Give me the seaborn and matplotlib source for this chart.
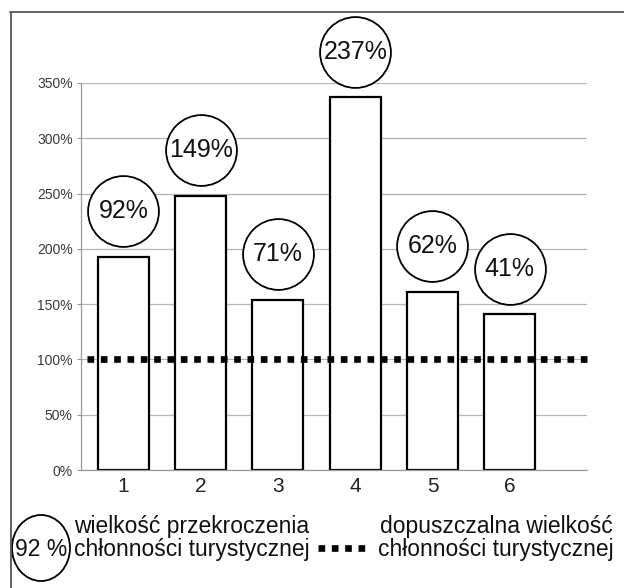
import matplotlib
matplotlib.use("Agg")
import matplotlib.pyplot as plt
import seaborn as sns
import pandas as pd
from matplotlib.transforms import offset_copy
from matplotlib.lines import Line2D
from matplotlib.patches import Ellipse

# ---- data ----
categories = ["1", "2", "3", "4", "5", "6"]
values = [193, 248, 154, 337, 161, 141]          # % of capacity
labels = ["92%", "149%", "71%", "237%", "62%", "41%"]  # exceedance
limit = 100
yticks = [0, 50, 100, 150, 200, 250, 300, 350]
ytick_labels = ["0%", "50%", "100%", "150%", "200%", "250%", "300%", "350%"]
legend_circle_text = "92 %"
legend_left_text = "wielkość przekroczenia\nchłonności turystycznej"
legend_right_text = "dopuszczalna wielkość\nchłonności turystycznej"

sns.set_theme(style="white")
plt.rcParams["font.family"] = ["Liberation Sans", "DejaVu Sans"]

W, H = 624, 588
fig = plt.figure(figsize=(W / 100, H / 100), dpi=100)
ax = fig.add_axes([81 / W, 1 - 470 / H, (587 - 81) / W, (470 - 83) / H])

df = pd.DataFrame({"cat": categories, "val": values})
sns.barplot(data=df, x="cat", y="val", ax=ax, color="white",
            edgecolor="black", linewidth=1.6, width=0.66, saturation=1)

ax.set_xlim(-0.55, 6.0)
ax.set_ylim(0, 350)
ax.set_yticks(yticks)
ax.set_yticklabels(ytick_labels, fontsize=10, color="#3a3a3a")
ax.tick_params(axis="y", length=3, width=0.8, color="#999999", pad=3, left=True)
ax.tick_params(axis="x", length=0, pad=5, labelsize=15, labelcolor="#222222")
ax.set_xlabel("")
ax.set_ylabel("")
ax.grid(axis="y", color="#b5b5b5", linewidth=0.9)
ax.set_axisbelow(True)
for s in ["top", "right"]:
    ax.spines[s].set_visible(False)
for s in ["left", "bottom"]:
    ax.spines[s].set_color("#999999")
    ax.spines[s].set_linewidth(0.9)

# admissible capacity line
ax.axhline(limit, xmin=0.012, xmax=1.006, color="black", linewidth=4.8,
           linestyle=(0, (1, 1)), dash_capstyle="butt", clip_on=False, zorder=5)

# circled labels above bars
trans = offset_copy(ax.transData, fig=fig, y=32.8, units="points")
for i, (v, lab) in enumerate(zip(values, labels)):
    ax.plot(i, v, marker="o", ms=51, mfc="white", mec="black", mew=1.3,
            transform=trans, clip_on=False, zorder=6)
    ax.text(i, v, lab, transform=trans, ha="center", va="center",
            fontsize=18, color="#111111", zorder=7, clip_on=False)

# frame lines
fig.add_artist(Line2D([10 / W, 1], [1 - 11.5 / H, 1 - 11.5 / H],
                      transform=fig.transFigure, color="#555555", linewidth=1.3))
fig.add_artist(Line2D([10.5 / W, 10.5 / W], [0, 1 - 11.5 / H],
                      transform=fig.transFigure, color="#555555", linewidth=1.3))

# legend
fig.add_artist(Ellipse((41 / W, 1 - 548 / H), 58 / W, 66 / H,
                       transform=fig.transFigure, fill=False,
                       edgecolor="black", linewidth=1.3))
fig.text(41 / W, 1 - 549 / H, legend_circle_text, ha="center", va="center",
         fontsize=16.5, color="#111111")
fig.text(192 / W, 1 - 538 / H, legend_left_text, ha="center", va="center",
         multialignment="center", fontsize=16.5, color="#111111",
         linespacing=1.05)
fig.add_artist(Line2D([318 / W, 370 / W], [1 - 548 / H, 1 - 548 / H],
                      transform=fig.transFigure, color="black", linewidth=4.8,
                      linestyle=(0, (1, 1)), dash_capstyle="butt"))
fig.text(496 / W, 1 - 538 / H, legend_right_text, ha="center", va="center",
         multialignment="center", fontsize=16.5, color="#111111",
         linespacing=1.05)

fig.savefig("out.png", dpi=100)
